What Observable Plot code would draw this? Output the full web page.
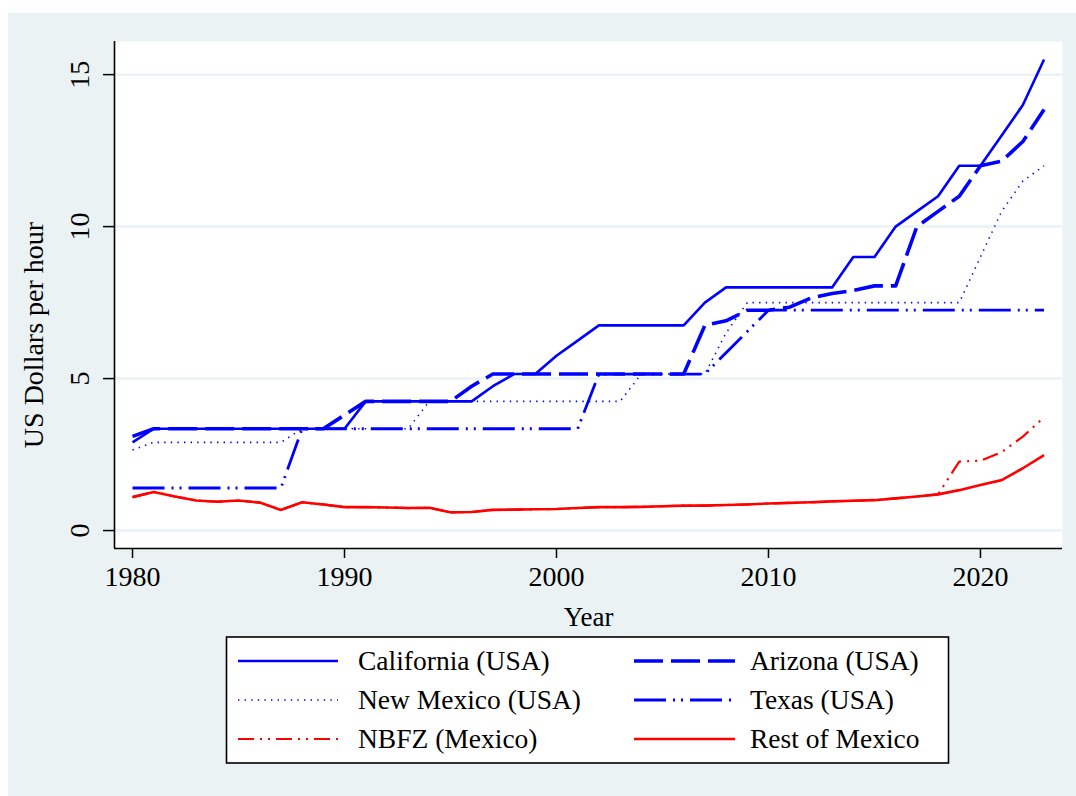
<!DOCTYPE html>
<html><head><meta charset="utf-8">
<script src="https://cdn.jsdelivr.net/npm/d3@7"></script>
<script src="https://cdn.jsdelivr.net/npm/@observablehq/plot@0.6"></script>
<style>
html,body{margin:0;padding:0;background:#fff;}
#wrap{position:relative;width:1076px;height:796px;background:#fff;overflow:hidden;font-family:"Liberation Serif",serif;}
#bg{position:absolute;left:8px;top:13px;right:0;bottom:0;background:#eaf2f3;}
#chart{position:absolute;left:0;top:0;}
#legend{position:absolute;left:0;top:0;}
</style></head><body>
<div id="wrap"><div id="bg"></div><div id="chart"></div><svg id="legend" width="1076" height="796"></svg></div>
<script>
const years = [1980,1981,1982,1983,1984,1985,1986,1987,1988,1989,1990,1991,1992,1993,1994,1995,1996,1997,1998,1999,2000,2001,2002,2003,2004,2005,2006,2007,2008,2009,2010,2011,2012,2013,2014,2015,2016,2017,2018,2019,2020,2021,2022,2023];
const california = [2.90,3.35,3.35,3.35,3.35,3.35,3.35,3.35,3.35,3.35,3.35,4.25,4.25,4.25,4.25,4.25,4.25,4.75,5.15,5.15,5.75,6.25,6.75,6.75,6.75,6.75,6.75,7.50,8.00,8.00,8.00,8.00,8.00,8.00,9.00,9.00,10.00,10.50,11.00,12.00,12.00,13.00,14.00,15.50];
const arizona = [3.10,3.35,3.35,3.35,3.35,3.35,3.35,3.35,3.35,3.35,3.80,4.25,4.25,4.25,4.25,4.25,4.75,5.15,5.15,5.15,5.15,5.15,5.15,5.15,5.15,5.15,5.15,6.75,6.90,7.25,7.25,7.35,7.65,7.80,7.90,8.05,8.05,10.00,10.50,11.00,12.00,12.15,12.80,13.85];
const newMexico = [2.65,2.90,2.90,2.90,2.90,2.90,2.90,2.90,3.35,3.35,3.35,3.35,3.35,3.35,4.25,4.25,4.25,4.25,4.25,4.25,4.25,4.25,4.25,4.25,5.15,5.15,5.15,5.15,6.50,7.50,7.50,7.50,7.50,7.50,7.50,7.50,7.50,7.50,7.50,7.50,9.00,10.50,11.50,12.00];
const texas = [1.40,1.40,1.40,1.40,1.40,1.40,1.40,1.40,3.35,3.35,3.35,3.35,3.35,3.35,3.35,3.35,3.35,3.35,3.35,3.35,3.35,3.35,5.15,5.15,5.15,5.15,5.15,5.15,5.85,6.55,7.25,7.25,7.25,7.25,7.25,7.25,7.25,7.25,7.25,7.25,7.25,7.25,7.25,7.25];
const nbfz = [1.10,1.27,1.12,0.99,0.95,0.99,0.92,0.68,0.93,0.86,0.77,0.77,0.76,0.74,0.75,0.60,0.61,0.68,0.69,0.70,0.71,0.74,0.77,0.77,0.78,0.80,0.82,0.82,0.84,0.86,0.89,0.91,0.93,0.96,0.98,1.00,1.06,1.12,1.19,2.27,2.30,2.58,3.09,3.73];
const restMexico = [1.10,1.27,1.12,0.99,0.95,0.99,0.92,0.68,0.93,0.86,0.77,0.77,0.76,0.74,0.75,0.60,0.61,0.68,0.69,0.70,0.71,0.74,0.77,0.77,0.78,0.80,0.82,0.82,0.84,0.86,0.89,0.91,0.93,0.96,0.98,1.00,1.06,1.12,1.19,1.33,1.50,1.66,2.05,2.48];
const seriesNames = ["California (USA)","Arizona (USA)","New Mexico (USA)","Texas (USA)","NBFZ (Mexico)","Rest of Mexico"];
const xTicks = [1980,1990,2000,2010,2020];
const yTicks = [0,5,10,15];

const BLUE = "#0000ff", RED = "#ff0000";
const styles = [
  {values: california, stroke: BLUE, width: 2.6, dash: null},
  {values: arizona, stroke: BLUE, width: 3.6, dash: "29,8"},
  {values: newMexico, stroke: BLUE, width: 1.6, dash: "1.4,5.2"},
  {values: texas, stroke: BLUE, width: 2.8, dash: "32,7,2,6,2,7"},
  {values: nbfz, stroke: RED, width: 2.2, dash: "16,6,2,6,2,6"},
  {values: restMexico, stroke: RED, width: 2.6, dash: null}
];

const xDomain = [1979.15, 2023.87];
const yDomain = [-0.59, 16.09];
const FONT = "Liberation Serif";

const lineMarks = styles.map((s, i) => {
  const rows = years.map((y, j) => ({year: y, value: s.values[j], series: seriesNames[i]}));
  return Plot.line(rows, {x: "year", y: "value", stroke: s.stroke, strokeWidth: s.width,
    strokeDasharray: s.dash || undefined, strokeLinecap: "butt", strokeLinejoin: "round"});
});

const chart = Plot.plot({
  width: 1076, height: 660,
  marginLeft: 114, marginRight: 14, marginTop: 41, marginBottom: 112,
  style: {background: "transparent", fontFamily: FONT, color: "black"},
  x: {domain: xDomain},
  y: {domain: yDomain},
  marks: [
    Plot.frame({fill: "white", stroke: "none"}),
    Plot.gridY(yTicks, {stroke: "#eaf2f3", strokeOpacity: 1, strokeWidth: 2.5}),
    ...lineMarks,
    Plot.ruleX([xDomain[0]], {stroke: "black", strokeWidth: 1.6}),
    Plot.ruleY([yDomain[0]], {stroke: "black", strokeWidth: 1.6}),
    Plot.axisX({ticks: xTicks, tickSize: 10, tickPadding: 8, fontSize: 28, tickFormat: d => String(d), label: null, strokeWidth: 1.5}),
    Plot.axisY({ticks: yTicks, tickSize: 11, tickFormat: () => "", label: null, strokeWidth: 1.5}),
    Plot.text(yTicks, {x: xDomain[0], y: d => d, text: d => String(d), rotate: -90, dx: -34, fontSize: 28, textAnchor: "middle", lineAnchor: "middle", fill: "black"}),
    Plot.text(["Year"], {frameAnchor: "bottom", dy: 69, fontSize: 27, lineAnchor: "middle", fill: "black"}),
    Plot.text(["US Dollars per hour"], {frameAnchor: "left", dx: -80, dy: 40, rotate: -90, fontSize: 28, lineAnchor: "middle", textAnchor: "middle", fill: "black"})
  ]
});
document.getElementById("chart").appendChild(chart);

// legend
const lg = d3.select("#legend");
lg.append("rect").attr("x", 226.5).attr("y", 637).attr("width", 722).attr("height", 126)
  .attr("fill", "white").attr("stroke", "black").attr("stroke-width", 1.6);
const rowsY = [661, 700, 739];
const cols = [{x1: 238, x2: 338, tx: 358}, {x1: 634, x2: 735, tx: 750}];
seriesNames.forEach((name, i) => {
  const c = cols[i % 2], y = rowsY[Math.floor(i / 2)], s = styles[i];
  lg.append("line").attr("x1", c.x1).attr("x2", c.x2).attr("y1", y).attr("y2", y)
    .attr("stroke", s.stroke).attr("stroke-width", s.width)
    .attr("stroke-dasharray", s.dash).attr("stroke-linecap", "butt");
  lg.append("text").attr("x", c.tx).attr("y", y + 9).attr("font-family", FONT)
    .attr("font-size", 27.5).attr("fill", "black").text(name);
});
</script>
</body></html>
